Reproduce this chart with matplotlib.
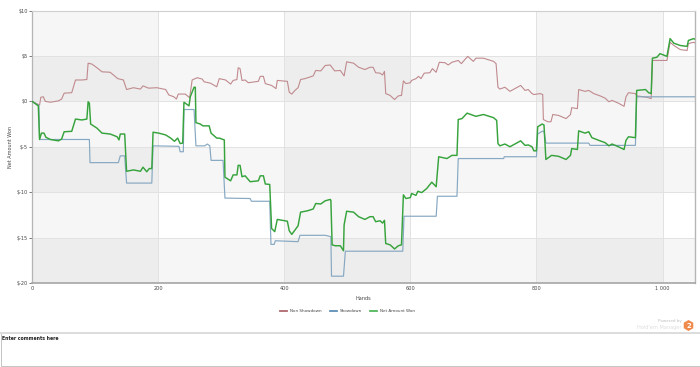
import matplotlib
matplotlib.use("Agg")
import matplotlib.pyplot as plt
from matplotlib.patches import Rectangle, RegularPolygon

x_ticks = [0, 200, 400, 600, 800, 1000]
x_labels = ["0", "200", "400", "600", "800", "1 000"]
y_ticks = [-20, -15, -10, -5, 0, 5, 10]
y_labels = ["$-20", "$-15", "$-10", "$-5", "$0", "$5", "$10"]

red_h = [0,12,14,18,21,29,42,47,51,63,69,79,87,89,95,103,111,124,136,145,150,161,172,176,185,198,212,217,225,229,232,243,250,254,262,270,273,283,293,297,307,315,319,325,327,330,333,338,343,359,362,367,370,380,387,389,405,408,412,417,422,426,433,446,450,458,465,473,480,489,495,499,510,518,528,536,541,545,552,556,559,561,568,575,581,586,589,593,600,602,609,613,617,622,631,635,641,646,655,660,666,676,681,684,691,695,700,704,716,732,736,739,742,750,758,766,775,782,787,793,796,806,810,811,818,823,826,835,847,854,856,865,867,877,883,891,901,909,915,920,930,939,942,946,957,959,975,982,984,1007,1012,1018,1028,1039,1041,1049,1051]
red_v = [0,-0.4,0.45,0.5,0,-0.1,0.05,0.25,0.9,0.95,2.35,2.35,2.4,4.2,4.1,3.7,3.25,3.2,2.5,2.35,1.3,1.5,1.35,1.7,1.45,1.5,1.3,0.7,0.5,0.25,0.8,0.8,0.4,2.35,2.6,2.45,2.15,2.0,1.6,2.5,2.35,1.9,2.3,2.4,3.7,3.6,2.3,2.35,2.05,2.2,2.75,2.75,1.95,1.75,1.4,2.3,2.2,1.0,0.8,1.2,1.5,2.4,2.5,2.8,3.4,3.35,3.95,4.0,3.35,3.4,2.8,4.35,4.2,3.75,3.5,3.75,3.75,3.15,3.1,2.9,3.3,0.85,0.65,0.2,0.6,0.65,2.25,1.95,2.05,2.3,2.5,2.75,2.5,3.1,3.15,3.6,3.2,4.3,4.25,4.0,4.3,4.5,4.15,4.4,4.95,4.7,4.4,4.75,4.75,4.4,4.15,1.55,1.35,1.55,1.1,1.4,1.75,1.2,1.3,0.85,0.75,0.85,0.75,-2.0,-2.25,-2.25,-1.45,-1.55,-1.9,-1.45,-0.7,-0.8,1.3,1.1,1.2,0.85,0.6,0.35,-0.05,0.1,-0.2,-0.55,0.5,0.95,0.85,0.6,0.45,0.3,4.5,4.5,6.5,6.15,5.7,5.6,6.35,6.5,6.45]

blue_h = [0,11,12,91,92,137,140,147,150,190,192,233,235,240,241,257,260,274,278,282,284,303,306,346,348,377,379,384,386,422,425,465,474,475,494,497,588,590,641,643,674,676,748,749,800,802,809,812,815,883,885,957,959,1051]
blue_v = [0,-0.45,-4.2,-4.2,-6.75,-6.75,-6.0,-6.0,-9.0,-9.0,-4.9,-4.95,-5.55,-5.55,-0.9,-0.9,-4.9,-4.9,-4.7,-4.9,-6.5,-6.5,-10.65,-10.7,-11.0,-11.0,-15.75,-15.75,-15.35,-15.45,-14.75,-14.75,-14.9,-19.25,-19.25,-16.5,-16.5,-12.65,-12.65,-10.45,-10.45,-6.3,-6.3,-6.1,-6.1,-3.6,-3.3,-3.3,-4.6,-4.6,-4.85,-4.85,0.5,0.5]

green_h = [0,10,12,15,19,22,29,42,47,51,63,69,79,87,89,91,93,103,111,124,135,138,140,147,150,161,172,176,182,186,190,192,201,212,220,226,231,235,239,241,249,251,257,259,260,267,271,281,284,293,297,305,306,315,319,325,327,330,333,338,346,359,362,367,370,377,380,385,389,405,408,412,422,426,437,446,450,458,465,473,474,476,481,489,494,495,499,510,518,528,536,541,545,552,556,559,561,568,575,581,586,589,593,600,602,609,612,618,626,634,641,645,658,666,674,676,682,690,700,704,716,732,737,739,742,750,758,766,775,782,787,793,796,800,802,809,812,815,824,835,847,854,856,865,867,877,883,888,899,909,915,920,930,939,942,946,957,959,973,978,982,984,991,996,1007,1012,1018,1028,1039,1041,1049,1051]
green_v = [0,-0.5,-4.2,-3.5,-3.5,-3.95,-4.2,-4.35,-4.15,-3.35,-3.3,-1.95,-2.05,-1.95,-0.05,-0.2,-2.5,-2.95,-3.5,-3.6,-3.9,-4.25,-3.6,-3.6,-7.7,-7.55,-7.7,-7.25,-7.75,-7.4,-7.4,-3.4,-3.5,-3.7,-4.05,-4.4,-4.05,-4.65,-4.6,-0.1,-0.5,0.5,1.55,1.55,-2.35,-2.5,-2.7,-2.7,-3.5,-4.05,-4.05,-4.25,-8.35,-8.75,-8.1,-8.1,-7.05,-7.05,-8.3,-8.2,-8.85,-8.75,-8.2,-8.2,-9.1,-9.15,-14.0,-14.35,-13.0,-13.2,-14.25,-14.65,-13.7,-12.2,-12.05,-11.85,-11.25,-11.3,-10.95,-10.8,-10.9,-15.8,-15.9,-15.9,-16.45,-13.6,-12.1,-12.2,-12.7,-13.0,-12.7,-12.7,-13.25,-13.15,-13.4,-13.1,-15.65,-15.8,-16.25,-15.9,-15.8,-10.3,-10.7,-10.6,-10.15,-10.35,-9.9,-10.05,-9.6,-8.9,-9.4,-6.1,-6.3,-5.95,-5.95,-2.0,-1.9,-1.3,-1.55,-1.65,-1.45,-1.8,-2.1,-4.65,-4.9,-4.7,-5.0,-4.7,-4.35,-4.85,-4.8,-5.0,-5.45,-5.45,-2.8,-2.5,-2.6,-6.4,-5.95,-6.05,-6.4,-5.95,-5.2,-5.3,-3.25,-3.5,-3.35,-4.0,-4.3,-4.55,-4.9,-4.7,-5.0,-5.3,-4.3,-3.9,-4.0,1.2,1.3,0.95,0.85,4.75,4.85,5.25,4.95,6.9,6.4,6.15,6.05,6.7,6.9,6.85]

series_names = ["Non Showdown", "Showdown", "Net Amount Won"]

plt.rcParams["font.family"] = "DejaVu Sans"
fig = plt.figure(figsize=(7, 3.67), dpi=100, facecolor="white")
ax = fig.add_axes([32 / 700, (367 - 283) / 367, 663 / 700, 272.5 / 367])
ax.set_xlim(0, 1051.5)
ax.set_ylim(-20, 10)

for a, b in [(0, 200), (400, 600), (800, 1000)]:
    ax.axvspan(a, b, color="black", alpha=0.035, lw=0, zorder=0)
for a, b in [(0, 5), (-10, -5), (-20, -15)]:
    ax.axhspan(a, b, color="black", alpha=0.035, lw=0, zorder=0)

ax.set_xticks(x_ticks)
ax.set_xticklabels(x_labels)
ax.set_yticks(y_ticks)
ax.set_yticklabels(y_labels)
ax.grid(True, color="#e2e2e2", lw=0.7, zorder=1)
ax.set_axisbelow(True)
ax.tick_params(labelsize=3.6, colors="#444444", length=2, width=0.5, pad=0.8)
ax.tick_params(axis="x", length=0, pad=2.5)
ax.set_xlabel("Hands", fontsize=3.6, color="#444444", labelpad=3.2)
ax.set_ylabel("Net Amount Won", fontsize=3.5, color="#444444", labelpad=2.5)

ax.plot(red_h, red_v, color="#c08a8e", lw=0.8, zorder=3, label=series_names[0])
ax.plot(blue_h, blue_v, color="#86a8c2", lw=0.85, zorder=3, label=series_names[1])
ax.plot(green_h, green_v, color="#36a33c", lw=1.05, zorder=4, label=series_names[2])

for side, col, lw in [("top", "#cfcfcf", 0.8), ("left", "#b5b5b5", 0.9), ("bottom", "#a5a5a5", 1.2), ("right", "#b5b5b5", 1.0)]:
    ax.spines[side].set_color(col)
    ax.spines[side].set_linewidth(lw)

handles, labels = ax.get_legend_handles_labels()
leg_colors = ["#b0686e", "#5f8fb5", "#52b85c"]
leg = fig.legend(handles, labels, loc="center", bbox_to_anchor=(347.5 / 700, 1 - 311 / 367), ncol=3,
                 frameon=False, fontsize=3.0, handlelength=1.7, handletextpad=0.7, columnspacing=1.9, labelcolor="#444444")
for line, c in zip(leg.get_lines(), leg_colors):
    line.set_color(c)
    line.set_linewidth(1.3)

over = fig.add_axes([0, 0, 1, 1], facecolor="none")
over.set_xlim(0, 700)
over.set_ylim(367, 0)
over.axis("off")
over.add_patch(Rectangle((0.5, 333), 699, 33.3, fc="white", ec="#c4c4c4", lw=0.7))
over.plot([0, 700], [333, 333], color="#dddddd", lw=1.4)
over.text(2.5, 338, "Enter comments here", fontsize=3.3, fontweight="bold", color="#222222", va="center", ha="left")
over.add_patch(RegularPolygon((688.5, 325.5), 6, radius=5.5, fc="#f08a4b", ec="none"))
over.text(688.5, 325.7, "2", fontsize=5, fontweight="bold", color="white", va="center", ha="center")
over.text(681.5, 321, "Powered by", fontsize=3, color="#bdbdbd", va="center", ha="right")
over.text(681.5, 327, "Hold'em Manager", fontsize=3.6, color="#dedede", va="center", ha="right")

fig.savefig("out.png", dpi=100)
